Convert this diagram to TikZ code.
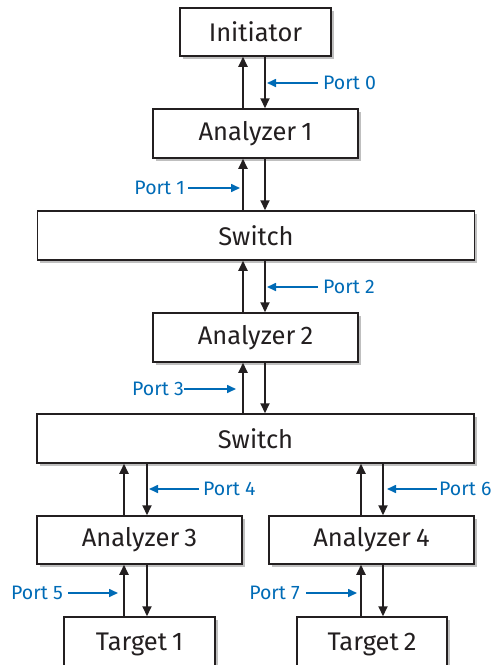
\documentclass[tikz,border=0pt]{standalone}
\usepackage{fontspec}
\setmainfont{Fira Sans}
\usetikzlibrary{arrows.meta,shadows}
\definecolor{ink}{RGB}{35,31,32}
\definecolor{portblue}{RGB}{0,107,182}
\tikzset{
  box/.style={draw=ink, line width=1.5pt, fill=white, rectangle, inner sep=0pt,
    font=\fontsize{25.5}{28}\selectfont, text=ink,
    drop shadow={shadow xshift=2.5pt, shadow yshift=-2.5pt, opacity=0.25, fill=black}},
  arr/.style={draw=ink, line width=2pt, -{Triangle[length=10pt,width=9pt]}},
  portlbl/.style={inner sep=0pt, text=portblue, font=\fontsize{19.5}{21}\selectfont},
  parr/.style={draw=portblue, line width=1.6pt, -{Triangle[length=9pt,width=8pt]}}
}
\begin{document}
\begin{tikzpicture}[x=1pt,y=-1pt]
\useasboundingbox (0,0) rectangle (492,665);
% boxes
\node[box, minimum width=151pt, minimum height=48pt] (init) at (255.5,32) {Initiator};
\node[box, minimum width=205pt, minimum height=49pt] (a1) at (255.5,133.5) {Analyzer\hspace{0.2em}1};
\node[box, minimum width=437pt, minimum height=49pt] (s1) at (256,235.5) {Switch};
\node[box, minimum width=205pt, minimum height=49pt] (a2) at (255.5,337.5) {Analyzer\hspace{0.2em}2};
\node[box, minimum width=437pt, minimum height=49pt] (s2) at (255.5,438.5) {Switch};
\node[box, minimum width=205pt, minimum height=48pt] (a3) at (139.5,540) {Analyzer\hspace{0.2em}3};
\node[box, minimum width=205pt, minimum height=48pt] (a4) at (371.5,540) {Analyzer\hspace{0.2em}4};
\node[box, minimum width=151pt, minimum height=54pt] (t1) at (139.5,644) {Target\hspace{0.2em}1};
\node[box, minimum width=150pt, minimum height=54pt] (t2) at (372,644) {Target\hspace{0.2em}2};
% vertical line positions
\coordinate (xl) at (243,0);
\coordinate (xr) at (265,0);
\coordinate (xl3) at (124,0);
\coordinate (xr3) at (147,0);
\coordinate (xl4) at (361,0);
\coordinate (xr4) at (383,0);
% connectors
\draw[arr] (xl |- a1.north) -- (xl |- init.south);
\draw[arr] (xr |- init.south) -- (xr |- a1.north);
\draw[arr] (xl |- s1.north) -- (xl |- a1.south);
\draw[arr] (xr |- a1.south) -- (xr |- s1.north);
\draw[arr] (xl |- a2.north) -- (xl |- s1.south);
\draw[arr] (xr |- s1.south) -- (xr |- a2.north);
\draw[arr] (xl |- s2.north) -- (xl |- a2.south);
\draw[arr] (xr |- a2.south) -- (xr |- s2.north);
\draw[arr] (xl3 |- a3.north) -- (xl3 |- s2.south);
\draw[arr] (xr3 |- s2.south) -- (xr3 |- a3.north);
\draw[arr] (xl4 |- a4.north) -- (xl4 |- s2.south);
\draw[arr] (xr4 |- s2.south) -- (xr4 |- a4.north);
\draw[arr] (xl3 |- t1.north) -- (xl3 |- a3.south);
\draw[arr] (xr3 |- a3.south) -- (xr3 |- t1.north);
\draw[arr] (xl4 |- t2.north) -- (xl4 |- a4.south);
\draw[arr] (xr4 |- a4.south) -- (xr4 |- t2.north);
% port labels
\node[portlbl, anchor=west] (p0) at (323,83) {Port 0};
\node[portlbl, anchor=east] (p1) at (185,188) {Port 1};
\node[portlbl, anchor=west] (p2) at (323,287) {Port 2};
\node[portlbl, anchor=east] (p3) at (184,389) {Port 3};
\node[portlbl, anchor=west] (p4) at (203,489) {Port 4};
\node[portlbl, anchor=west] (p6) at (439,489) {Port 6};
\node[portlbl, anchor=east] (p5) at (63,593) {Port 5};
\node[portlbl, anchor=east] (p7) at (300,593) {Port 7};
\draw[parr, shorten <=5pt, shorten >=2pt] (p0.west) -- (xr |- p0.west);
\draw[parr, shorten <=3pt, shorten >=3pt] (p1.east) -- (xl |- p1.east);
\draw[parr, shorten <=5pt, shorten >=2pt] (p2.west) -- (xr |- p2.west);
\draw[parr, shorten <=0pt, shorten >=7pt] (p3.east) -- (xl |- p3.east);
\draw[parr, shorten <=4pt, shorten >=2pt] (p4.west) -- (xr3 |- p4.west);
\draw[parr, shorten <=2pt, shorten >=4pt] (p6.west) -- (xr4 |- p6.west);
\draw[parr, shorten <=5pt, shorten >=6pt] (p5.east) -- (xl3 |- p5.east);
\draw[parr, shorten <=6pt, shorten >=4pt] (p7.east) -- (xl4 |- p7.east);
\end{tikzpicture}
\end{document}
